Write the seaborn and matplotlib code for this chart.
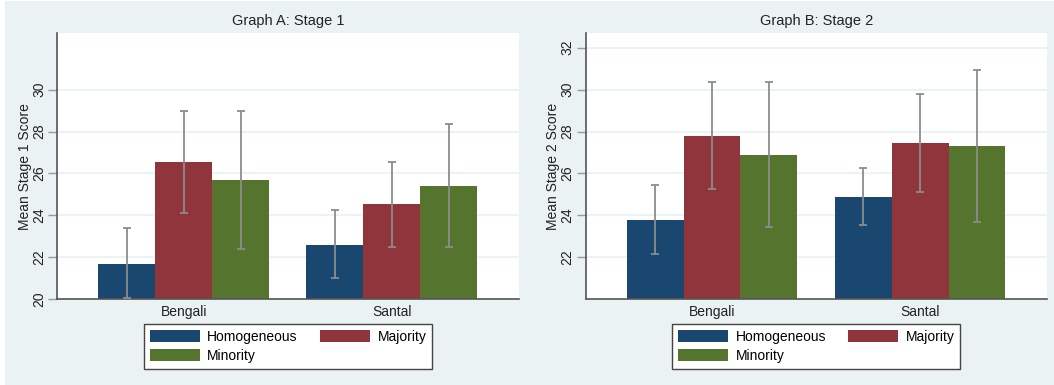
import matplotlib.pyplot as plt
import matplotlib.patches as mpatches
import seaborn as sns
import pandas as pd
import numpy as np

# data
groups = ['Bengali', 'Santal']
compositions = ['Homogeneous', 'Majority', 'Minority']

# Stage 1 means and CI bounds, ordered [Bengali x 3, Santal x 3]
stage1_mean = [21.69, 26.55, 25.67, 22.60, 24.53, 25.41]
stage1_low = [20.05, 24.11, 22.39, 21.00, 22.49, 22.49]
stage1_high = [23.38, 29.00, 29.00, 24.24, 26.57, 28.35]

# Stage 2
stage2_mean = [23.78, 27.80, 26.89, 24.90, 27.45, 27.30]
stage2_low = [22.18, 25.24, 23.46, 23.54, 25.11, 23.70]
stage2_high = [25.43, 30.35, 30.38, 26.26, 29.78, 30.95]

titles = ['Graph A: Stage 1', 'Graph B: Stage 2']
ylabels = ['Mean Stage 1 Score', 'Mean Stage 2 Score']
yticks_list = [np.arange(20, 31, 2), np.arange(22, 33, 2)]

colors = ['#1a476f', '#90353b', '#55752f']
bg = '#eaf2f3'

plt.rcParams['font.family'] = ['Liberation Sans', 'DejaVu Sans']
plt.rcParams['font.size'] = 10

fig = plt.figure(figsize=(10.54, 3.85), dpi=100, facecolor='white')
# stata style light background, thin white margin left/top
fig.patches.append(mpatches.Rectangle((5 / 1054, 0), 1, 384 / 385,
                                      transform=fig.transFigure,
                                      facecolor=bg, edgecolor='none', zorder=-10))

ax_left = fig.add_axes([0.0545, 0.2226, 0.4376, 0.6917])
ax_right = fig.add_axes([0.5557, 0.2226, 0.4377, 0.6917])

panels = [
    (ax_left, stage1_mean, stage1_low, stage1_high),
    (ax_right, stage2_mean, stage2_low, stage2_high),
]

for i, (ax, means, lows, highs) in enumerate(panels):
    df = pd.DataFrame({
        'group': np.repeat(groups, 3),
        'composition': compositions * 2,
        'score': means,
        'low': lows,
        'high': highs,
    })

    sns.barplot(data=df, x='group', y='score', hue='composition',
                order=groups, hue_order=compositions,
                palette=colors, saturation=1, errorbar=None,
                width=0.82, linewidth=0, ax=ax)

    # error bars on top of each bar (positions taken from the drawn bars)
    for j, comp in enumerate(compositions):
        bars = ax.containers[j]
        sub = df[df['composition'] == comp].set_index('group').loc[groups]
        xs = [b.get_x() + b.get_width() / 2 for b in bars]
        ys = sub['score'].values
        yerr = [ys - sub['low'].values, sub['high'].values - ys]
        ax.errorbar(xs, ys, yerr=yerr, fmt='none', ecolor='#8c8c8c',
                    elinewidth=1.3, capsize=2.8, capthick=1.3, zorder=5)

    ax.set_xlim(-0.607, 1.61)
    ax.set_ylim(20, 32.7)
    ax.set_yticks(yticks_list[i])
    ax.set_facecolor('white')
    ax.set_axisbelow(True)
    ax.yaxis.grid(True, color=bg, linewidth=1.3)
    ax.xaxis.grid(False)

    for side in ['top', 'right']:
        ax.spines[side].set_visible(False)
    for side in ['left', 'bottom']:
        ax.spines[side].set_color('#555555')
        ax.spines[side].set_linewidth(1.2)

    ax.tick_params(axis='y', length=6.5, width=1, color='#999999',
                   labelsize=10, labelcolor='#222222', pad=1.5,
                   labelrotation=90)
    for lab in ax.get_yticklabels():
        lab.set_va('center')
    ax.tick_params(axis='x', length=0, labelsize=10, labelcolor='#222222', pad=4)

    ax.set_xlabel('')
    ax.set_ylabel(ylabels[i], fontsize=10, color='#222222')
    ax.yaxis.set_label_coords(-0.055, 0.5)
    ax.set_title(titles[i], fontsize=10.5, color='#222222', pad=6)

    # legend: row 1 Homogeneous, Majority; row 2 Minority
    handles, labels = ax.get_legend_handles_labels()
    order = [0, 2, 1]
    leg = ax.legend([handles[k] for k in order], [labels[k] for k in order],
                    loc='upper center', bbox_to_anchor=(0.5, -0.093),
                    ncol=2, frameon=True, fancybox=False, framealpha=1,
                    edgecolor='#444444', fontsize=10,
                    handlelength=3.6, handleheight=0.95, handletextpad=0.55,
                    columnspacing=1.6, labelspacing=0.4, borderpad=0.4,
                    borderaxespad=0)
    leg.get_frame().set_linewidth(1.0)

fig.savefig('out.png', dpi=100, facecolor=fig.get_facecolor())
